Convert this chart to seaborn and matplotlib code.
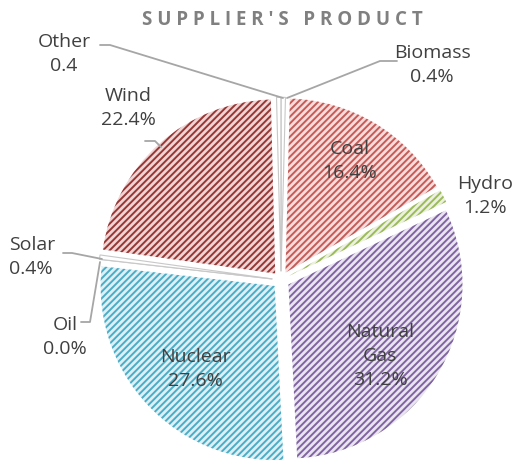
import matplotlib
matplotlib.use("Agg")
import matplotlib.pyplot as plt
from matplotlib.lines import Line2D
import seaborn as sns

# ---- data ----
categories = ["Biomass", "Coal", "Hydro", "Natural Gas", "Nuclear", "Oil", "Solar", "Wind", "Other"]
values = [0.4, 16.4, 1.2, 31.2, 27.6, 0.0, 0.4, 22.4, 0.4]
label_texts = ["Biomass\n0.4%", "Coal\n16.4%", "Hydro\n1.2%", "Natural\nGas\n31.2%",
               "Nuclear\n27.6%", "Oil\n0.0%", "Solar\n0.4%", "Wind\n22.4%", "Other\n0.4"]
title = "SUPPLIER'S PRODUCT"

# ---- style ----
sns.set_theme(style="white")
plt.rcParams["font.family"] = ["Open Sans", "DejaVu Sans"]
plt.rcParams["hatch.linewidth"] = 1.4

hatch_colors = {"Coal": "#c65a57", "Hydro": "#9bbb59", "Natural Gas": "#8064a2",
                "Nuclear": "#4bacc6", "Wind": "#953735"}
face_colors = {"Coal": "#f7dcdb", "Hydro": "#ebf1de", "Natural Gas": "#e9e4f0",
               "Nuclear": "#dcf0f6", "Wind": "#f0d3d3"}

W, H = 527, 466
fig = plt.figure(figsize=(W / 100, H / 100), dpi=100)
fig.patch.set_facecolor("white")

cx, cy, r = 281, 280, 174
ax = fig.add_axes([0, 0, 1, 1])
wedges, _ = ax.pie(values, startangle=90, counterclock=False,
                   explode=[0.05] * len(values), radius=1.0)
for w, cat in zip(wedges, categories):
    if cat in hatch_colors:
        w.set_facecolor(face_colors[cat])
        w.set_edgecolor(hatch_colors[cat])
        w.set_hatch("/////")
        w.set_linewidth(0)
    else:
        w.set_facecolor("white")
        w.set_edgecolor("#c8c8c8")
        w.set_linewidth(0.8)
ax.set_xlim(-cx / r, (W - cx) / r)
ax.set_ylim(-(H - cy) / r, cy / r)
ax.set_aspect("equal", adjustable="box")
ax.axis("off")


def fx(x):
    return x / W


def fy(y):
    return 1 - y / H


txt_color = "#404040"
fs = 14
label_pos = {
    "Biomass": (432, 65, "center"),
    "Coal": (350, 161, "center"),
    "Hydro": (485, 196, "center"),
    "Natural Gas": (380, 356, "center"),
    "Nuclear": (195, 369, "center"),
    "Oil": (65, 337, "center"),
    "Solar": (9, 257, "left"),
    "Wind": (128, 108, "center"),
    "Other": (64, 54, "center"),
}
for cat, txt in zip(categories, label_texts):
    x, y, ha = label_pos[cat]
    fig.text(fx(x), fy(y), txt, ha=ha, va="center", fontsize=fs, color=txt_color,
             linespacing=1.42, multialignment=ha)

# leader lines
leaders = [
    [(397, 61), (380, 61), (287, 98)],      # Biomass
    [(100, 45), (110, 45), (283, 98)],      # Other
    [(63, 253), (72, 253), (102, 259)],     # Solar
    [(81, 322), (90, 322), (100, 262)],     # Oil
    [(145, 141), (155, 141), (161, 147)],   # Wind
]
for pts in leaders:
    xs = [fx(p[0]) for p in pts]
    ys = [fy(p[1]) for p in pts]
    fig.add_artist(Line2D(xs, ys, transform=fig.transFigure, color="#a6a6a6", lw=1.3))

fig.text(fx(282), fy(20), " ".join(list(title)), ha="center", va="center",
         fontsize=13.5, fontweight="bold", color="#808080")

fig.savefig("out.png", dpi=100, facecolor="white")
